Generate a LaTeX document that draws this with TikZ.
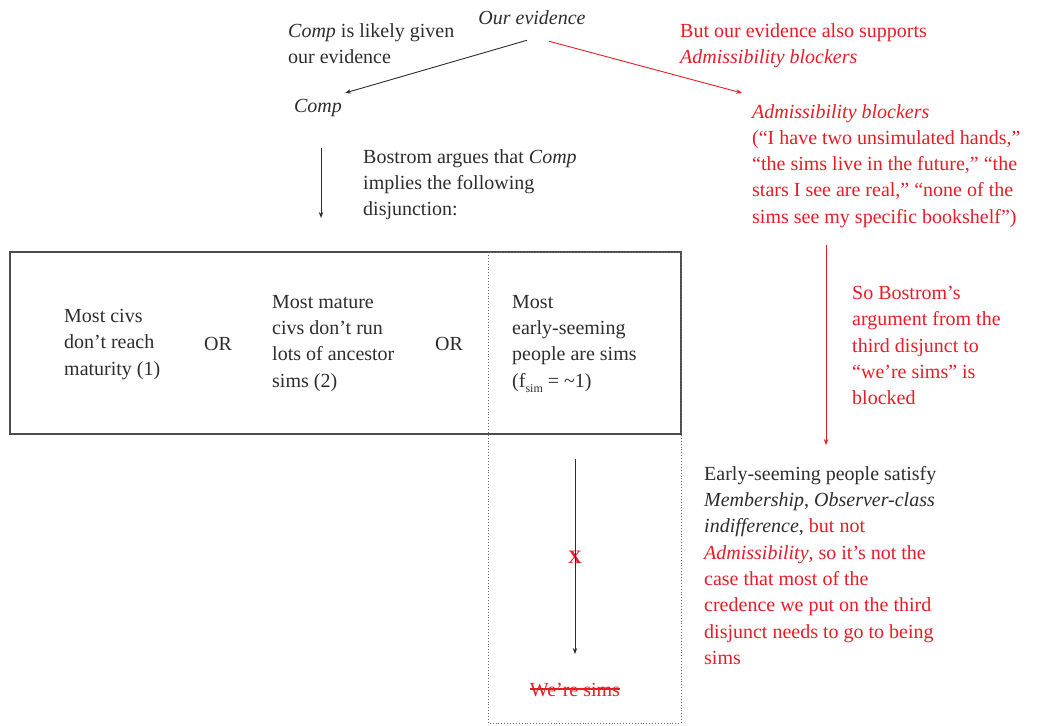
\documentclass[tikz,border=0pt]{standalone}
\usepackage{fontspec}
\setmainfont{Liberation Serif}
\usetikzlibrary{arrows.meta,calc}
\definecolor{myred}{RGB}{232,28,38}
\definecolor{ink}{RGB}{45,45,45}
\tikzset{
  txt/.style={inner sep=0pt, align=left, anchor=north west, text=ink, font=\fontsize{20}{26.3}\selectfont},
  rtxt/.style={txt, text=myred},
  arr/.style={draw=ink, line width=0.9pt, -{Stealth[length=6pt,width=4.5pt]}},
  rarr/.style={draw=myred, line width=0.9pt, -{Stealth[length=6pt,width=4.5pt]}},
}
\begin{document}
\begin{tikzpicture}[x=1pt,y=-1pt]
\useasboundingbox (0,0) rectangle (1037,726);
% top
\node[txt, anchor=center] (ev) at (532,18) {\itshape Our evidence};
\node[txt] (lik) at (288,23) {\textit{Comp} is likely given\\our evidence};
\node[txt, anchor=center] (comp) at (318,108) {\itshape Comp};
\node[rtxt] (but) at (680,23) {But our evidence also supports\\\textit{Admissibility blockers}};
\node[rtxt] (adm) at (752,104) {\textit{Admissibility blockers}\\(“I have two unsimulated hands,”\\“the sims live in the future,” “the\\stars I see are real,” “none of the\\sims see my specific bookshelf”)};
\node[txt] (bos) at (363,149) {Bostrom argues that \textit{Comp}\\implies the following\\disjunction:};
% box
\draw[draw=ink!85, line width=1.3pt] (10,252) rectangle (681,434);
\draw[draw=ink!70, line width=0.9pt, dotted] (488,252) rectangle (681,723);
\node[txt] (d1) at (64,309) {Most civs\\don’t reach\\maturity (1)};
\node[txt, anchor=center] (or1) at (218,344) {OR};
\node[txt] (d2) at (272,295) {Most mature\\civs don’t run\\lots of ancestor\\sims (2)};
\node[txt, anchor=center] (or2) at (449,344) {OR};
\node[txt] (d3) at (512,295) {Most\\early-seeming\\people are sims\\(f\raisebox{-0.6ex}{\fontsize{12}{12}\selectfont sim} = \textasciitilde1)};
% lower
\node[txt, anchor=center, text=myred] (x) at (575,557) {\fontsize{19}{19}\selectfont\bfseries X};
\node[txt, anchor=center, text=myred] (ws) at (575,690) {We’re sims};
\draw[myred, line width=1.1pt] ($(ws.west)+(0,-1)$) -- ($(ws.east)+(0,-1)$);
\node[rtxt] (so) at (852,286) {So Bostrom’s\\argument from the\\third disjunct to\\“we’re sims” is\\blocked};
\node[txt] (early) at (704,466) {Early-seeming people satisfy\\\textit{Membership}, \textit{Observer-class}\\\textit{indifference}, \textcolor{myred}{but not}\\\textcolor{myred}{\textit{Admissibility}, so it’s not the}\\\textcolor{myred}{case that most of the}\\\textcolor{myred}{credence we put on the third}\\\textcolor{myred}{disjunct needs to go to being}\\\textcolor{myred}{sims}};
% connectors
\coordinate (a1s) at ($(ev.south)+(-5,15)$);
\coordinate (a1e) at (345,93);
\draw[arr] (a1s) -- (a1e);
\draw[rarr] ($(ev.south)+(17,16)$) -- ($(adm.north west)+(-10,-11)$);
\draw[arr] ($(comp.south)+(3,31)$) -- ($(comp.south)+(3,101)$);
\draw[rarr] (826,245) -- ($(early.north west)+(122,-21)$);
\draw[arr] ($(ws.north)+(0,-224)$) -- ($(ws.north)+(0,-29)$);
\end{tikzpicture}
\end{document}
